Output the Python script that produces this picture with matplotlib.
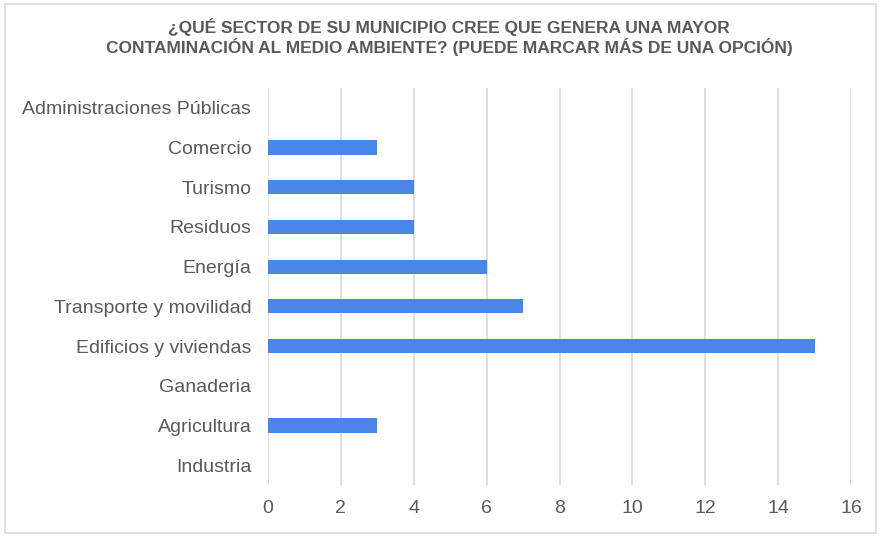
import matplotlib.pyplot as plt
from matplotlib.patches import Rectangle

plt.rcParams['font.family'] = ['Liberation Sans', 'DejaVu Sans']

# categories listed bottom to top
sectores = ['Industria', 'Agricultura', 'Ganaderia', 'Edificios y viviendas',
            'Transporte y movilidad', 'Energía', 'Residuos', 'Turismo',
            'Comercio', 'Administraciones Públicas']
valores = [0, 3, 0, 15, 7, 6, 4, 4, 3, 0]
x_ticks = [0, 2, 4, 6, 8, 10, 12, 14, 16]

titulo = ('¿QUÉ SECTOR DE SU MUNICIPIO CREE QUE GENERA UNA MAYOR\n'
          'CONTAMINACIÓN AL MEDIO AMBIENTE? (PUEDE MARCAR MÁS DE UNA OPCIÓN)')

gris = '#595959'

fig = plt.figure(figsize=(8.81, 5.37), dpi=100)
# light frame round the chart area
fig.patches.append(Rectangle((5/881, 4/537), 871/881, 529/537, transform=fig.transFigure,
                             fill=False, edgecolor='#d9d9d9', linewidth=1.2))

ax = fig.add_axes([268/881, 1 - 485/537, 583/881, 397/537])
ax.barh(range(len(sectores)), valores, height=0.36, color='#4a86e8', zorder=3)

ax.set_xlim(0, 16)
ax.set_ylim(-0.5, len(sectores) - 0.5)
ax.set_xticks(x_ticks)
ax.set_yticks(range(len(sectores)))
ax.set_yticklabels(sectores)
ax.grid(axis='x', color='#d9d9d9', linewidth=1.2, zorder=0)
for s in ax.spines.values():
    s.set_visible(False)
ax.tick_params(axis='both', length=0, colors=gris, labelsize=14)
ax.tick_params(axis='x', pad=11)
ax.tick_params(axis='y', pad=12)

fig.text(0.51, 1 - 37/537, titulo, ha='center', va='center', fontsize=12.5,
         fontweight='bold', color=gris, linespacing=1.15)

fig.savefig('out.png', dpi=100)
